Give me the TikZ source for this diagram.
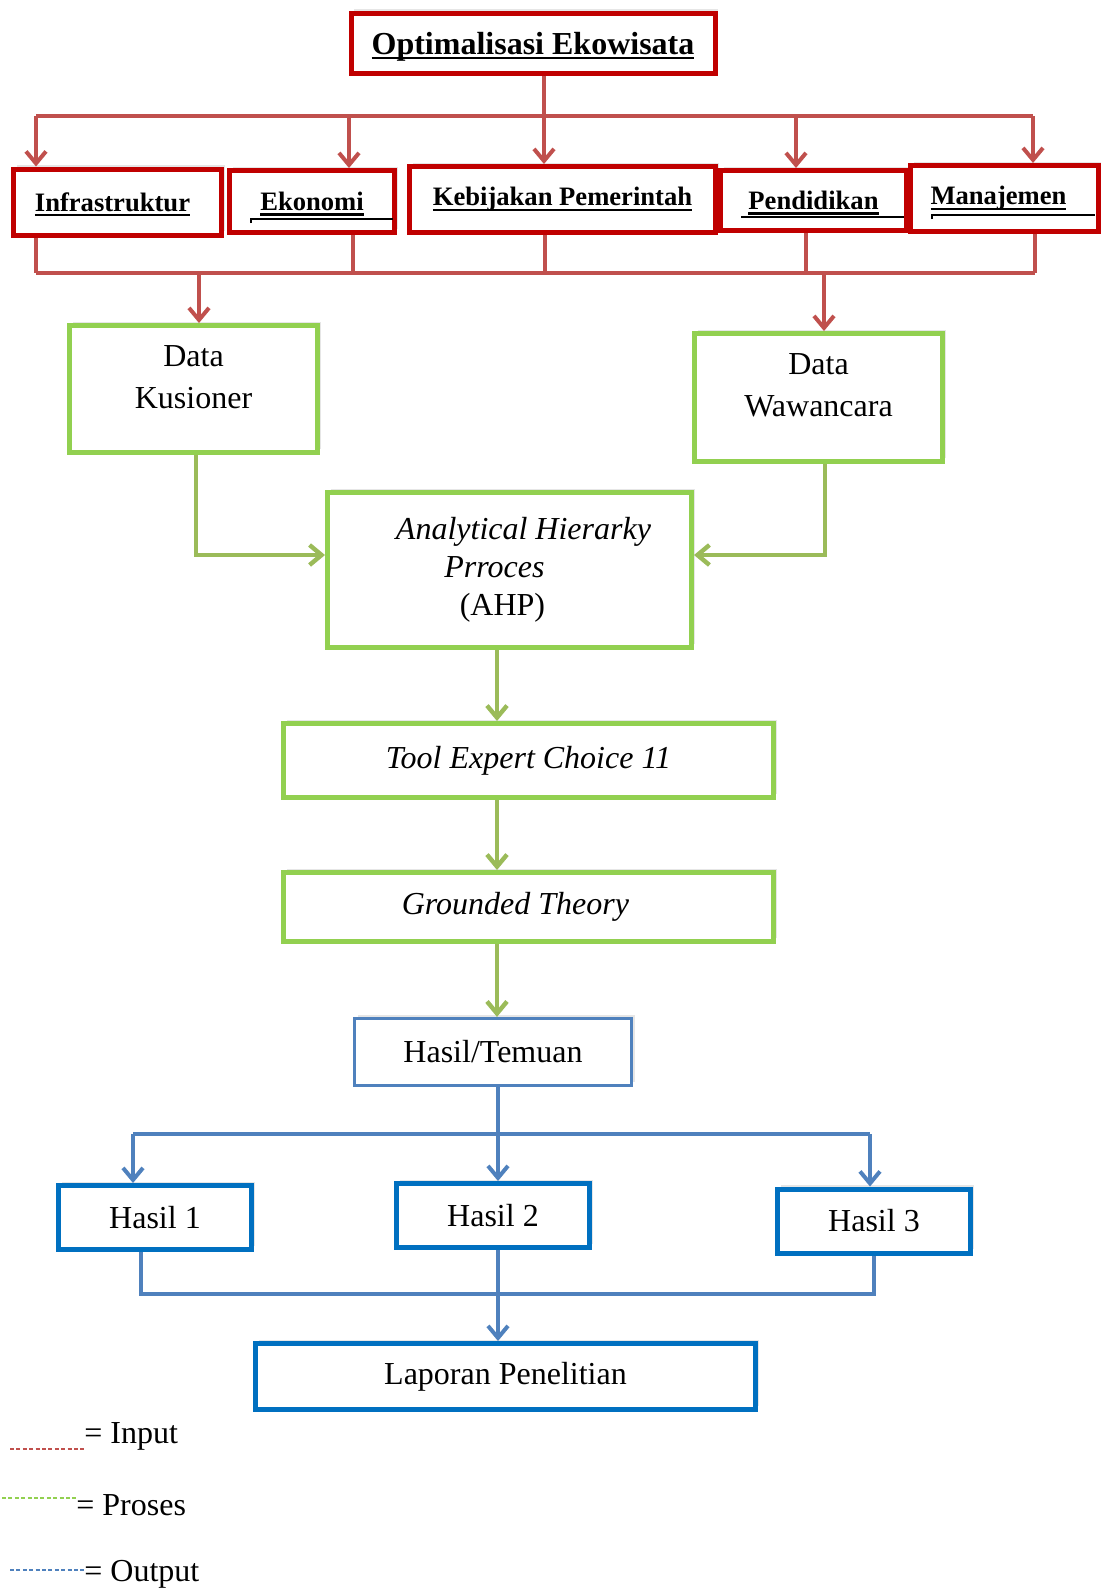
\documentclass[tikz,border=0pt]{standalone}
\usepackage{fontspec}
\setmainfont{Liberation Serif}
\usepackage{xcolor}
\definecolor{Dark Red}{HTML}{C00000}
\definecolor{Brick}{HTML}{C0504D}
\definecolor{Lime}{HTML}{92D050}
\definecolor{Olive Green}{HTML}{9BBB59}
\definecolor{Ocean Blue}{HTML}{0070C0}
\definecolor{Steel Blue}{HTML}{4F81BD}
\colorlet{cRed}{Dark Red}
\colorlet{cRedLine}{Brick}
\colorlet{cGreen}{Lime}
\colorlet{cGreenLine}{Olive Green}
\colorlet{cBlue}{Ocean Blue}
\colorlet{cBlueLine}{Steel Blue}
\colorlet{c0}{cRed}
\colorlet{c1}{cGreen}
\colorlet{c2}{cBlue}
\usepackage{tikz}
\usetikzlibrary{calc, positioning, arrows.meta, shadows}
\newcommand{\thickul}[1]{\setbox0\hbox{#1}\rlap{\smash{\rule[-2.6pt]{\wd0}{1.3pt}}}\box0}
\tikzset{
	>={Straight Barb[length=6pt, width=10pt]},
	font = \fontsize{16pt}{19pt}\selectfont,
	flow box/.style={
		draw,
		fill=white,
		line width=2.5pt,
		inner sep=2pt,
		drop shadow={shadow xshift=1.5pt, shadow yshift=2pt, opacity=.2}
	},
	input box/.style={
		flow box,
		draw=c0,
		font=\fontsize{13.3pt}{16pt}\selectfont\bfseries
	},
	proces box/.style={
		flow box,
		draw=c1
	},
	output box/.style={
		flow box,
		draw=c2
	},
	in line/.style={line width=2pt, draw=cRedLine},
	in edge/.style={->, line width=2pt, draw=cRedLine},
	proc edge/.style={->, line width=2.2pt, draw=cGreenLine},
	out line/.style={line width=2pt, draw=cBlueLine},
	out edge/.style={->, line width=2pt, draw=cBlueLine},
	stray line/.style={line width=.6pt, draw=black},
	key line/.style={line width=.75pt, dash pattern=on 2pt off 1.2pt},
	key text/.style={inner sep=0pt, anchor=west}
}

\begin{document}
\begin{tikzpicture}[x=.5pt, y=-.5pt]
\useasboundingbox (0,0) rectangle (1101,1592);
% ---
% input
% ---
\node[input box, font=\fontsize{16pt}{19pt}\selectfont\bfseries, text depth=0pt, minimum width=182pt, minimum height=30pt] (top) at (533,43) {\thickul{Optimalisasi Ekowisata}};
\node[input box, minimum width=104pt, minimum height=33pt] (in-1) at (117.5,202) {\thickul{Infrastruktur}\hspace*{5pt}};
\node[input box, minimum width=82.5pt, minimum height=31pt] (in-2) at (312,201.5) {\thickul{Ekonomi}};
\node[input box, minimum width=153pt, minimum height=33pt] (in-3) at (562.5,199.5) {\thickul{Kebijakan Pemerintah}};
\node[input box, minimum width=93pt, minimum height=30pt] (in-4) at (813.5,200.5) {\thickul{Pendidikan}};
\node[input box, minimum width=94pt, minimum height=33pt] (in-5) at (1004.5,198.5) {\thickul{Manajemen}\hspace*{6pt}};

\draw[stray line] (251,223) -- (251,219) -- (393,219);
\draw[stray line] (741,217) -- (904,217);
\draw[stray line] (932,219) -- (932,215) -- (1095,215);

% ---
% proses
% ---
\node[proces box, minimum width=124pt, minimum height=63.5pt, align=center] (data-k) at (193.5,389) {Data\\[2pt]Kusioner\\[-7pt]\mbox{}};
\node[proces box, minimum width=124pt, minimum height=64pt, align=center] (data-w) at (818.5,397.5) {Data\\[2pt]Wawancara\\[-7pt]\mbox{}};
\node[proces box, minimum width=182pt, minimum height=77.5pt, align=center] (ahp) at (509.5,570)
	{\hspace*{14pt}\textit{Analytical Hierarky}\\\hspace*{-15pt}\textit{Prroces}\\\hspace*{-7pt}(AHP)};
\node[proces box, minimum width=245pt, minimum height=37pt] (tool) at (528.5,760.5) {\textit{Tool Expert Choice 11}};
\node[proces box, minimum width=245pt, minimum height=34.5pt] (gt) at (528.5,907) {\textit{Grounded Theory}\hspace*{13pt}};

% ---
% output
% ---
\node[output box, draw=cBlueLine, line width=1.6pt, minimum width=138.5pt, minimum height=33.5pt] (res) at (493,1052) {Hasil/Temuan};
\node[output box, minimum width=96.5pt, minimum height=32pt] (res-1) at (155,1217.5) {Hasil 1};
\node[output box, minimum width=96.5pt, minimum height=32pt] (res-2) at (493,1215.5) {Hasil 2};
\node[output box, minimum width=96.5pt, minimum height=32pt] (res-3) at (874,1221) {Hasil 3};
\node[output box, minimum width=250pt, minimum height=33pt] (rep) at (505.5,1376.5) {Laporan Penelitian};

% ---
% input connectors
% ---
\foreach \x/\n in {36/1, 349/2, 544/3, 796/4, 1033/5}
	\coordinate (t-\n) at (\x,116);
\draw[in line] (t-1) -- (t-5);
\draw[in edge] (top.south -| t-3) -- (in-3.north -| t-3);
\foreach \n in {1,2,4,5}
	\draw[in edge] (t-\n) -- (in-\n.north -| t-\n);

\foreach \x/\n in {36/1, 353/2, 545/3, 806/4, 1035/5}
	\coordinate (b-\n) at (\x,273);
\draw[in line] (b-1) -- (b-5);
\foreach \n in {1,...,5}
	\draw[in line] (in-\n.south -| b-\n) -- (b-\n);
\coordinate (b-k) at (199,273);
\coordinate (b-w) at (824,273);
\draw[in edge] (b-k) -- (data-k.north -| b-k);
\draw[in edge] (b-w) -- (data-w.north -| b-w);

% ---
% proses connectors
% ---
\coordinate (k-c) at (196,555);
\coordinate (w-c) at (825,555);
\coordinate (axis) at (497,0);
\draw[proc edge] (data-k.south -| k-c) -- (k-c) -- (ahp.west |- k-c);
\draw[proc edge] (data-w.south -| w-c) -- (w-c) -- (ahp.east |- w-c);
\draw[proc edge] (ahp.south -| axis) -- (tool.north -| axis);
\draw[proc edge] (tool.south -| axis) -- (gt.north -| axis);
\draw[proc edge] (gt.south -| axis) -- (res.north -| axis);

% ---
% output connectors
% ---
\coordinate (o-1) at (133,1134);
\coordinate (o-2) at (498,1134);
\coordinate (o-3) at (870,1134);
\draw[out line] (o-1) -- (o-3);
\draw[out edge] (res.south -| o-2) -- (res-2.north -| o-2);
\draw[out edge] (o-1) -- (res-1.north -| o-1);
\draw[out edge] (o-3) -- (res-3.north -| o-3);

\coordinate (p-1) at (141,1294);
\coordinate (p-3) at (874,1294);
\draw[out line] (res-1.south -| p-1) -- (p-1) -- (p-3) -- (res-3.south -| p-3);
\draw[out edge] (res-2.south -| o-2) -- (rep.north -| o-2);

% ---
% key
% ---
\node[key text] (key-in) at (84,1436) {= Input};
\node[key text] (key-pr) at (76,1505) {= Proses};
\node[key text] (key-out) at (84,1574) {= Output};
\coordinate (key-in-l) at (10,1449);
\coordinate (key-pr-l) at (2,1498);
\coordinate (key-out-l) at (10,1570);
\draw[key line, draw=cRedLine] (key-in-l) -- (key-in.west |- key-in-l);
\draw[key line, draw=cGreen] (key-pr-l) -- (key-pr.west |- key-pr-l);
\draw[key line, draw=cBlueLine] (key-out-l) -- (key-out.west |- key-out-l);
\end{tikzpicture}
\end{document}
